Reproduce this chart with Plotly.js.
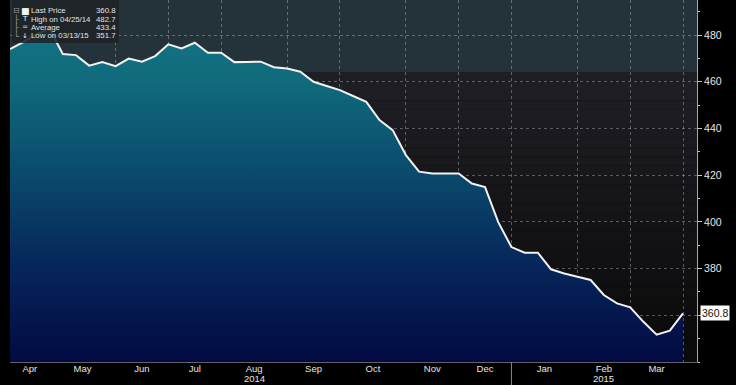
<!DOCTYPE html>
<html>
<head>
<meta charset="utf-8">
<script src="https://cdn.plot.ly/plotly-3.0.1.min.js"></script>
<style>
  html, body { margin: 0; padding: 0; background: #000; }
  #chart { width: 736px; height: 385px; }
</style>
</head>
<body>
<div id="chart"></div>
<script>
// ---- Data (weekly) ----
const dates = [
  '2014-04-04','2014-04-11','2014-04-18','2014-04-25','2014-05-02','2014-05-09','2014-05-16','2014-05-23','2014-05-30',
  '2014-06-06','2014-06-13','2014-06-20','2014-06-27','2014-07-04','2014-07-11','2014-07-18','2014-07-25',
  '2014-08-01','2014-08-08','2014-08-15','2014-08-22','2014-08-29','2014-09-05','2014-09-12','2014-09-19','2014-09-26',
  '2014-10-03','2014-10-10','2014-10-17','2014-10-24','2014-10-31','2014-11-07','2014-11-14','2014-11-21','2014-11-28',
  '2014-12-05','2014-12-12','2014-12-19','2014-12-26','2015-01-02','2015-01-09','2015-01-16','2015-01-23','2015-01-30',
  '2015-02-06','2015-02-13','2015-02-20','2015-02-27','2015-03-06','2015-03-13','2015-03-20','2015-03-27'
];
const lastPrice = [
  474.0, 477.0, 480.4, 482.7, 471.9, 471.4, 466.9, 468.4, 466.7,
  469.9, 468.6, 471.0, 476.0, 474.3, 476.7, 472.4, 472.4,
  468.4, 468.5, 468.6, 466.2, 465.7, 464.3, 460.0, 458.2, 456.4,
  453.9, 451.4, 443.6, 439.3, 428.6, 421.5, 420.7, 420.7, 420.7,
  416.4, 414.9, 399.9, 389.2, 386.8, 386.8, 379.7, 377.9, 376.5,
  375.1, 368.7, 365.1, 363.4, 357.2, 351.7, 353.4, 360.8
];
const monthLabels = ['Apr','May','Jun','Jul','Aug','Sep','Oct','Nov','Dec','Jan','Feb','Mar'];
const yearLabels = ['2014', '2015'];
const yearUnderMonth = ['Aug', 'Feb'];
const yTickValues = [360, 380, 400, 420, 440, 460, 480];
const yTickLabels = ['', '380', '400', '420', '440', '460', '480'];
const yMinorValues = [340, 350, 370, 390, 410, 430, 450, 470, 490];
const legendNames = ['Last Price', 'High on 04/25/14', 'Average', 'Low on 03/13/15'];
const legendValues = ['360.8', '482.7', '433.4', '351.7'];
const legendIcons = ['\u25A0', 'T', '\u2550', '\u2193'];
const legendTree = ['\u229F', '\u251C', '\u251C', '\u2514'];
const lastPriceLabel = '360.8';

// ---- Derived positions ----
const W = 736, H = 385, ML = 10, MR = 39, MT = 0, MB = 23;
const PW = W - ML - MR, PH = H - MT - MB;
const px = x => (x - ML) / PW;
const py = y => 1 - (y - MT) / PH;

function toStr(ms) { return new Date(ms).toISOString().slice(0, 19).replace('T', ' '); }
const ms = dates.map(d => Date.parse(d));
// month boundaries: last point of each month
const bIdx = [0];
for (let i = 0; i < dates.length - 1; i++) {
  if (dates[i].slice(5, 7) !== dates[i + 1].slice(5, 7)) bIdx.push(i);
}
bIdx.push(dates.length - 1);
const mids = [];
for (let k = 0; k < bIdx.length - 1; k++) mids.push(toStr((ms[bIdx[k]] + ms[bIdx[k + 1]]) / 2));
const boundaries = bIdx.slice(1).map(i => dates[i]);
const yearSep = dates[bIdx.find(i => dates[i + 1] && dates[i].slice(0, 4) !== dates[i + 1].slice(0, 4))];
const pxPerPoint = (683 - 10) / (dates.length - 1);
const step = (ms[ms.length - 1] - ms[0]) / (dates.length - 1);
const xEnd = toStr(ms[ms.length - 1] + step * (697 - 683) / pxPerPoint);

// ---- Background bands ----
const shapes = [];
shapes.push({type: 'rect', xref: 'paper', yref: 'y', x0: 0, x1: 1, y0: 464, y1: 495,
  fillcolor: '#24333a', line: {width: 0}, layer: 'below'});
const c0 = [10, 10, 10], c1 = [31, 31, 38];
for (let v = 340; v < 464; v += 4) {
  const t = (v - 340) / (464 - 340);
  const c = c0.map((a, j) => Math.round(a + (c1[j] - a) * t));
  shapes.push({type: 'rect', xref: 'paper', yref: 'y', x0: 0, x1: 1, y0: v, y1: Math.min(v + 4, 464),
    fillcolor: `rgb(${c[0]},${c[1]},${c[2]})`, line: {width: 0}, layer: 'below'});
}
// year separator below axis
shapes.push({type: 'line', xref: 'x', yref: 'paper', x0: yearSep, x1: yearSep, y0: -MB / PH, y1: 0,
  line: {color: '#8a8a8a', width: 1}});
// legend box
shapes.push({type: 'rect', xref: 'paper', yref: 'paper', x0: px(12), x1: px(119), y0: py(43), y1: 1,
  fillcolor: 'rgba(30,34,38,0.88)', line: {width: 0}, layer: 'above'});

// ---- Annotations ----
const font = 'Liberation Sans, Arial, sans-serif';
const annotations = [];
const rowsY = [10.5, 19, 27.5, 36];
legendNames.forEach((n, i) => {
  annotations.push({xref: 'paper', yref: 'paper', x: px(30), y: py(rowsY[i]), xanchor: 'left', yanchor: 'middle',
    text: n, showarrow: false, borderpad: 0, font: {family: font, size: 7.8, color: '#e2e2e2'}});
  annotations.push({xref: 'paper', yref: 'paper', x: px(117), y: py(rowsY[i]), xanchor: 'right', yanchor: 'middle',
    text: legendValues[i], showarrow: false, borderpad: 0, font: {family: font, size: 7.8, color: '#e2e2e2'}});
  annotations.push({xref: 'paper', yref: 'paper', x: px(25), y: py(rowsY[i]), xanchor: 'center', yanchor: 'middle',
    text: legendIcons[i], showarrow: false, borderpad: 0, font: {family: 'DejaVu Sans', size: i === 0 ? 9 : 7, color: '#f2f2f2'}});
  annotations.push({xref: 'paper', yref: 'paper', x: px(16), y: py(rowsY[i]), xanchor: 'center', yanchor: 'middle',
    text: legendTree[i], showarrow: false, borderpad: 0, font: {family: 'DejaVu Sans', size: 8, color: '#9a9a9a'}});
});
yearLabels.forEach((yl, k) => {
  const m = monthLabels.indexOf(yearUnderMonth[k]);
  annotations.push({xref: 'x', yref: 'paper', x: mids[m], y: py(385), xanchor: 'center', yanchor: 'bottom',
    text: yl, showarrow: false, borderpad: 0, font: {family: font, size: 9.5, color: '#e6e6e6'}});
});
annotations.push({xref: 'paper', yref: 'y', x: 1, y: lastPrice[lastPrice.length - 1], xanchor: 'left', yanchor: 'middle',
  xshift: 3, text: lastPriceLabel, showarrow: false, bgcolor: '#ffffff', borderpad: 1,
  font: {family: font, size: 10.5, color: '#111'}});

// ---- Trace ----
const trace = {
  type: 'scatter', mode: 'lines', x: dates, y: lastPrice,
  line: {color: '#f2f2f2', width: 2},
  fill: 'tozeroy',
  fillgradient: {type: 'vertical', start: 340, stop: 495,
    colorscale: [[0, '#020a42'], [0.26, '#06255a'], [0.52, '#0a4a6c'], [0.78, '#106b7c'], [1, '#14788a']]},
  hoverinfo: 'skip'
};

const gridC = 'rgba(200,200,200,0.4)';
const layout = {
  width: W, height: H,
  margin: {l: ML, r: MR, t: MT, b: MB, pad: 0},
  paper_bgcolor: '#000', plot_bgcolor: '#0a0a0a',
  showlegend: false,
  xaxis: {
    type: 'date', range: [dates[0], xEnd],
    tickmode: 'array', tickvals: mids, ticktext: monthLabels,
    ticks: '', showgrid: false, zeroline: false, ticklabelstandoff: -2,
    showline: true, linecolor: 'rgba(200,200,200,0.5)', linewidth: 1,
    tickfont: {family: font, size: 9.5, color: '#e6e6e6'},
    minor: {tickmode: 'array', tickvals: boundaries, showgrid: true, gridcolor: gridC, griddash: 'dot', gridwidth: 1, ticks: ''}
  },
  yaxis: {
    side: 'right', range: [340, 495],
    tickmode: 'array', tickvals: yTickValues, ticktext: yTickLabels,
    ticks: 'outside', ticklen: 4, tickcolor: '#c8c8c8', tickwidth: 1,
    showline: true, linecolor: '#a8a8a8', linewidth: 1,
    showgrid: true, gridcolor: gridC, griddash: 'dot', gridwidth: 1, zeroline: false,
    tickfont: {family: font, size: 10.5, color: '#e6e6e6'},
    minor: {tickmode: 'array', tickvals: yMinorValues, ticks: 'outside', ticklen: 2, tickcolor: '#c8c8c8', showgrid: false}
  },
  shapes: shapes,
  annotations: annotations
};

Plotly.newPlot('chart', [trace], layout, {displayModeBar: false, staticPlot: true});
</script>
</body>
</html>
